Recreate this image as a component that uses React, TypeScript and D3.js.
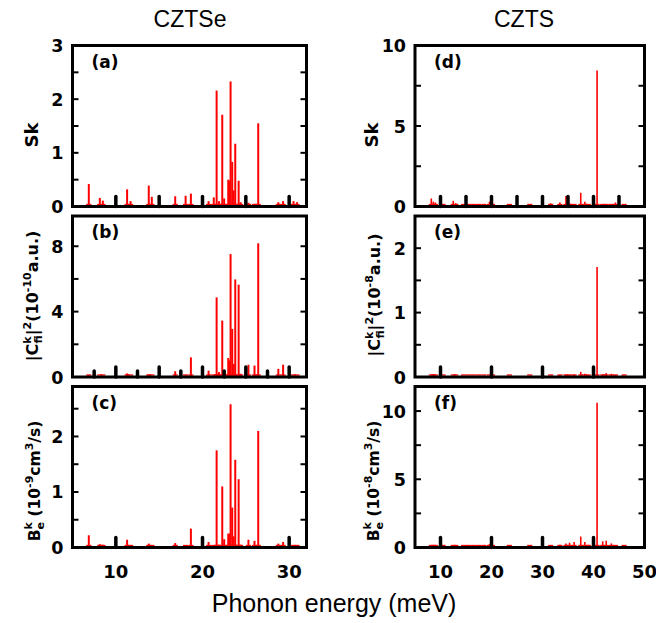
import React from "react";
import * as d3 from "d3";

// ---------- DATA ----------
// CZTSe phonon mode energies (meV) shared by panels (a)-(c)
const cztseEnergy = [6.88, 8.15, 8.5, 11.3, 11.7, 13.8, 14.15, 16.85, 18.05, 18.66, 20.7, 21.3, 21.63, 21.9, 22.28, 22.5, 22.97, 23.1, 23.24, 23.43, 23.6, 23.78, 24.17, 24.4, 25.3, 26.0, 26.43, 28.75, 29.3, 30.5, 30.9];
const cztseSk = [0.42, 0.16, 0.11, 0.32, 0.1, 0.39, 0.18, 0.19, 0.2, 0.24, 0.1, 0.17, 2.16, 0.1, 1.71, 0.15, 0.5, 0.48, 2.33, 0.83, 0.3, 1.17, 0.48, 0.08, 0.07, 0.05, 1.55, 0.08, 0.1, 0.1, 0.08];
const cztseC2 = [0.1, 0.05, 0.03, 0.22, 0.05, 0.15, 0.05, 0.35, 0.1, 1.2, 0.39, 0.1, 4.87, 0.3, 3.45, 0.3, 1.16, 1.0, 7.52, 2.94, 0.8, 5.97, 5.65, 0.2, 0.75, 0.7, 8.18, 0.5, 0.75, 0.1, 0.05];
const cztseBe = [0.22, 0.06, 0.05, 0.14, 0.03, 0.07, 0.02, 0.08, 0.04, 0.34, 0.1, 0.03, 1.75, 0.05, 1.1, 0.15, 0.25, 0.25, 2.58, 0.72, 0.2, 1.58, 1.23, 0.05, 0.14, 0.12, 2.1, 0.07, 0.1, 0.02, 0.02];

// CZTS phonon mode energies (meV) shared by panels (d)-(f)
const cztsEnergy = [8.2, 8.6, 9.0, 10.5, 12.5, 13.0, 14.5, 15.5, 16.5, 17.5, 18.5, 19.6, 20.2, 23.5, 27.5, 31.6, 33.4, 34.6, 35.3, 36.2, 37.5, 38.3, 39.0, 40.7, 41.8, 42.5, 43.5, 44.3, 46.0];
const cztsSk = [0.5, 0.3, 0.25, 0.1, 0.35, 0.2, 0.1, 0.08, 0.1, 0.05, 0.1, 0.3, 0.1, 0.03, 0.03, 0.2, 0.25, 0.65, 0.2, 0.1, 0.85, 0.3, 0.15, 8.45, 0.1, 0.1, 0.15, 0.25, 0.05];
const cztsC2 = [0.01, 0.01, 0.01, 0.01, 0.01, 0.01, 0.01, 0.01, 0.01, 0.01, 0.01, 0.01, 0.01, 0.005, 0.005, 0.02, 0.03, 0.04, 0.03, 0.04, 0.08, 0.05, 0.03, 1.71, 0.04, 0.06, 0.05, 0.03, 0.01];
const cztsBe = [0.15, 0.05, 0.05, 0.05, 0.15, 0.05, 0.1, 0.1, 0.1, 0.1, 0.1, 0.25, 0.1, 0.03, 0.03, 0.1, 0.2, 0.3, 0.35, 0.4, 0.8, 0.4, 0.2, 10.6, 0.45, 0.5, 0.3, 0.15, 0.05];

const leftXTicks = [10, 20, 30];
const rightXTicks = [10, 20, 30, 40, 50];

const SANS = "'Liberation Sans', Arial, Helvetica, sans-serif";
const WIDE = "'DejaVu Sans', Verdana, sans-serif";

type PanelProps = {
  x0: number; x1: number; top: number; h: number;
  xDomain: [number, number]; yDomain: [number, number];
  yLabels: number[]; yMinorStep: number;
  energy: number[]; values: number[];
  bottomMajor: number[]; bottomMinor: number[];
  tag: string; barW: number; baseHalf: number;
  xLabels?: number[];
};

function Panel(p: PanelProps) {
  const x = d3.scaleLinear().domain(p.xDomain).range([p.x0, p.x1]);
  const y = d3.scaleLinear().domain(p.yDomain).range([p.top + p.h, p.top]);
  const minor = d3.range(p.yDomain[0], p.yDomain[1] + 1e-9, p.yMinorStep);
  const tickLen = 6;
  return (
    <g>
      {p.energy.map((e, i) => (
        <line key={"s" + i} x1={x(e - p.baseHalf)} x2={x(e + p.baseHalf)} y1={y(0) - 2} y2={y(0) - 2} stroke="#ff0000" strokeWidth={1.3} />
      ))}
      {p.energy.map((e, i) => (
        <line key={"b" + i} x1={x(e)} x2={x(e)} y1={y(0)} y2={y(p.values[i])} stroke="#ff0000" strokeWidth={p.barW} />
      ))}
      {p.bottomMinor.map((t) => (
        <line key={"bm" + t} x1={x(t)} x2={x(t)} y1={y(0)} y2={y(0) - 6} stroke="#000" strokeWidth={3.5} strokeLinecap="round" />
      ))}
      {p.bottomMajor.map((t) => (
        <line key={"bM" + t} x1={x(t)} x2={x(t)} y1={y(0)} y2={y(0) - 10} stroke="#000" strokeWidth={3.5} strokeLinecap="round" />
      ))}
      {minor.map((t, i) => (
        <g key={"yt" + i}>
          <line x1={p.x0} x2={p.x0 + tickLen} y1={y(t)} y2={y(t)} stroke="#000" strokeWidth={2} />
          <line x1={p.x1} x2={p.x1 - tickLen} y1={y(t)} y2={y(t)} stroke="#000" strokeWidth={2} />
        </g>
      ))}
      {p.yLabels.map((t) => (
        <text key={"yl" + t} x={p.x0 - 9} y={y(t) + 6.5} textAnchor="end" fontFamily={WIDE} fontWeight="bold" fontSize={17.5} fill="#000">{t}</text>
      ))}
      <rect x={p.x0} y={p.top} width={p.x1 - p.x0} height={p.h} fill="none" stroke="#000" strokeWidth={3} />
      <text x={p.x0 + 19} y={p.top + 22} fontFamily={WIDE} fontWeight="bold" fontSize={17} fill="#000">{p.tag}</text>
      {p.xLabels && p.xLabels.map((t) => (
        <text key={"xl" + t} x={x(t)} y={p.top + p.h + 30} textAnchor="middle" fontFamily={WIDE} fontWeight="bold" fontSize={18} fill="#000">{t}</text>
      ))}
    </g>
  );
}

function CLabel({ cx, cy, exp }: { cx: number; cy: number; exp: string }) {
  return (
    <text transform={`translate(${cx},${cy}) rotate(-90)`} textAnchor="middle" fontFamily={WIDE} fontWeight="bold" fontSize={16} fill="#000">
      |C<tspan fontSize={11} dy={-7}>k</tspan><tspan fontSize={11} dx={-7} dy={11}>fi</tspan><tspan dy={-4}>|</tspan><tspan fontSize={11} dy={-7}>2</tspan><tspan dy={7}>(10</tspan><tspan fontSize={11} dy={-7}>{exp}</tspan><tspan dy={7}>a.u.)</tspan>
    </text>
  );
}

function BLabel({ cx, cy, exp }: { cx: number; cy: number; exp: string }) {
  return (
    <text transform={`translate(${cx},${cy}) rotate(-90)`} textAnchor="middle" fontFamily={WIDE} fontWeight="bold" fontSize={15.5} fill="#000">
      B<tspan fontSize={11} dy={-8}>k</tspan><tspan fontSize={11} dx={-7} dy={12}>e</tspan><tspan dy={-4}> (10</tspan><tspan fontSize={11} dy={-7}>{exp}</tspan><tspan dy={7}>cm</tspan><tspan fontSize={11} dy={-7}>3</tspan><tspan dy={7}>/s)</tspan>
    </text>
  );
}

export default function App() {
  const L = { x0: 72.5, x1: 306.5, xDomain: [5, 32] as [number, number] };
  const R = { x0: 415, x1: 644.5, xDomain: [5, 50] as [number, number] };
  const tops = [45.5, 216, 386.5];
  const h = 161;
  return (
    <svg width={656} height={623} style={{ display: "block", position: "absolute", left: 0, top: 0, background: "#fff" }}>
      <rect width={656} height={623} fill="#fff" />
      <text x={190} y={27} textAnchor="middle" fontFamily={SANS} fontSize={23} fill="#000">CZTSe</text>
      <text x={524} y={27} textAnchor="middle" fontFamily={SANS} fontSize={23} fill="#000">CZTS</text>

      <Panel {...L} top={tops[0]} h={h} yDomain={[0, 3]} yLabels={[0, 1, 2, 3]} yMinorStep={0.5}
        energy={cztseEnergy} values={cztseSk} bottomMajor={[10, 15, 20, 25, 30]} bottomMinor={[]} tag="(a)" barW={2} baseHalf={0.3} />
      <Panel {...L} top={tops[1]} h={h} yDomain={[0, 9.85]} yLabels={[0, 4, 8]} yMinorStep={2}
        energy={cztseEnergy} values={cztseC2} bottomMajor={[10, 15, 20, 25, 30]} bottomMinor={[7.5, 12.5, 17.5, 22.5, 27.5]} tag="(b)" barW={2} baseHalf={0.3} />
      <Panel {...L} top={tops[2]} h={h} yDomain={[0, 2.9]} yLabels={[0, 1, 2]} yMinorStep={0.5}
        energy={cztseEnergy} values={cztseBe} bottomMajor={[10, 20, 30]} bottomMinor={[]} tag="(c)" barW={2} baseHalf={0.3} xLabels={leftXTicks} />

      <Panel {...R} top={tops[0]} h={h} yDomain={[0, 10]} yLabels={[0, 5, 10]} yMinorStep={2.5}
        energy={cztsEnergy} values={cztsSk} bottomMajor={[10, 15, 20, 25, 30, 35, 40, 45]} bottomMinor={[]} tag="(d)" barW={1.6} baseHalf={0.5} />
      <Panel {...R} top={tops[1]} h={h} yDomain={[0, 2.5]} yLabels={[0, 1, 2]} yMinorStep={0.5}
        energy={cztsEnergy} values={cztsC2} bottomMajor={[10, 20, 30, 40]} bottomMinor={[]} tag="(e)" barW={1.6} baseHalf={0.5} />
      <Panel {...R} top={tops[2]} h={h} yDomain={[0, 11.8]} yLabels={[0, 5, 10]} yMinorStep={2.5}
        energy={cztsEnergy} values={cztsBe} bottomMajor={[10, 20, 30, 40]} bottomMinor={[]} tag="(f)" barW={1.6} baseHalf={0.5} xLabels={rightXTicks} />

      <text transform="translate(38,135) rotate(-90)" textAnchor="middle" fontFamily={WIDE} fontWeight="bold" fontSize={18} fill="#000">Sk</text>
      <text transform="translate(378,135) rotate(-90)" textAnchor="middle" fontFamily={WIDE} fontWeight="bold" fontSize={18} fill="#000">Sk</text>
      <CLabel cx={38} cy={296} exp="-10" />
      <CLabel cx={380} cy={295} exp="-8" />
      <BLabel cx={40} cy={481} exp="-9" />
      <BLabel cx={379} cy={481} exp="-8" />

      <text x={334} y={612} textAnchor="middle" fontFamily={SANS} fontSize={25} fill="#000">Phonon energy (meV)</text>
    </svg>
  );
}
